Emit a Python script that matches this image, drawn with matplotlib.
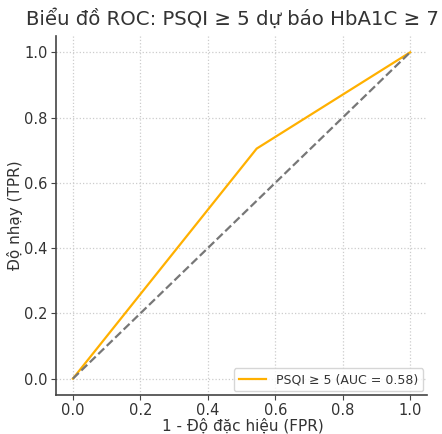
import matplotlib

matplotlib.use("Agg")
import matplotlib.pyplot as plt

# ROC points
FPR = [0.0, 0.545, 1.0]
TPR = [0.0, 0.705, 1.0]
AUC = 0.58
TICKS = [0.0, 0.2, 0.4, 0.6, 0.8, 1.0]

LINE_COLOR = "#FFB000"
TEXT_COLOR = "#333333"

fig = plt.figure(figsize=(4.42, 4.34), dpi=100)
ax = fig.add_axes([56 / 442, 1 - 395 / 434, 371 / 442, 359 / 434])

ax.plot(FPR, TPR, color=LINE_COLOR, linewidth=1.6, label=f"PSQI ≥ 5 (AUC = {AUC:.2f})")
ax.plot([0, 1], [0, 1], color="#777777", linestyle="--", linewidth=1.6)

ax.set_xlim(-0.05, 1.05)
ax.set_ylim(-0.05, 1.05)
ax.set_xticks(TICKS)
ax.set_yticks(TICKS)
ax.grid(True, linestyle=":", color="#cccccc", linewidth=0.9)
for side in ("top", "right"):
    ax.spines[side].set_visible(False)
for side in ("left", "bottom"):
    ax.spines[side].set_color("#444444")
    ax.spines[side].set_linewidth(1.2)
ax.tick_params(colors="#444444", labelcolor=TEXT_COLOR, labelsize=10.5, length=3.5, pad=2.5)

fig.text(233 / 442, 1 - 19 / 434, "Biểu đồ ROC: PSQI ≥ 5 dự báo HbA1C ≥ 7",
         ha="center", va="center", fontsize=14.2, color=TEXT_COLOR)
ax.set_xlabel("1 - Độ đặc hiệu (FPR)", fontsize=11, color=TEXT_COLOR)
ax.set_ylabel("Độ nhạy (TPR)", fontsize=11, color=TEXT_COLOR)
ax.xaxis.set_label_coords((243 - 56) / 371, (395 - 426) / 359)
ax.yaxis.set_label_coords((15 - 56) / 371, 0.5)
ax.xaxis.label.set_va("center")
ax.yaxis.label.set_va("center")
ax.legend(loc="lower right", fontsize=9, labelcolor=TEXT_COLOR, handlelength=2.2,
          borderaxespad=0.3)

fig.savefig("out.png", dpi=100)
